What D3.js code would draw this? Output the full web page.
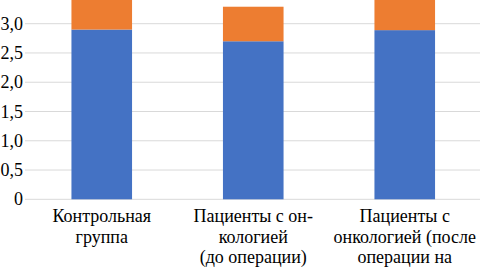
<!DOCTYPE html>
<html>
<head>
<meta charset="utf-8">
<script src="https://cdn.jsdelivr.net/npm/d3@7"></script>
<style>
  body { margin: 0; background: #fff; }
  svg { display: block; }
</style>
</head>
<body>
<script>
// данные
const categories = ["Контрольная группа", "Пациенты с онкологией (до операции)", "Пациенты с онкологией (после операции на"];
const labelLines = [
    ["Контрольная", "группа"],
    ["Пациенты с он-", "кологией", "(до операции)"],
    ["Пациенты с", "онкологией (после", "операции на"]
];
const seriesBlue = [2.9, 2.7, 2.89];
const seriesOrange = [0.6, 0.59, 0.6];
const yTicks = [0, 0.5, 1.0, 1.5, 2.0, 2.5, 3.0];

const width = 480, height = 267;
const colors = { blue: "#4472C4", orange: "#ED7D31", grid: "#d9d9d9", text: "#000" };
const fontFamily = "Liberation Serif";

const svg = d3.select("body").append("svg")
    .attr("width", width)
    .attr("height", height);

const x = d3.scaleBand()
    .domain(categories)
    .range([26, 480.5])
    .paddingInner(0.6)
    .paddingOuter(0.3);

const y = d3.scaleLinear()
    .domain([0, 3])
    .range([199.3, 23.7]);

// сетка
svg.append("g")
    .selectAll("line")
    .data(yTicks)
    .enter().append("line")
    .attr("x1", 25)
    .attr("x2", width)
    .attr("y1", d => y(d))
    .attr("y2", d => y(d))
    .attr("stroke", colors.grid)
    .attr("stroke-width", 1);

// подписи оси Y
svg.append("g")
    .selectAll("text")
    .data(yTicks)
    .enter().append("text")
    .attr("x", 23)
    .attr("y", d => y(d) + 6)
    .attr("text-anchor", "end")
    .attr("font-family", fontFamily)
    .attr("font-size", 18)
    .attr("fill", colors.text)
    .text(d => d === 0 ? "0" : d3.format(".1f")(d).replace(".", ","));

// столбцы
const stacked = categories.map((c, i) => ({ c, blue: seriesBlue[i], orange: seriesOrange[i] }));

svg.append("g")
    .selectAll("rect")
    .data(stacked)
    .enter().append("rect")
    .attr("x", d => x(d.c))
    .attr("width", x.bandwidth())
    .attr("y", d => y(d.blue))
    .attr("height", d => y(0) - y(d.blue))
    .attr("fill", colors.blue);

svg.append("g")
    .selectAll("rect")
    .data(stacked)
    .enter().append("rect")
    .attr("x", d => x(d.c))
    .attr("width", x.bandwidth())
    .attr("y", d => y(d.blue + d.orange))
    .attr("height", d => y(d.blue) - y(d.blue + d.orange))
    .attr("fill", colors.orange);

// подписи категорий, по строкам
labelLines.forEach((lines, i) => {
    const cx = x(categories[i]) + x.bandwidth() / 2;
    svg.append("g")
        .selectAll("text")
        .data(lines)
        .enter().append("text")
        .attr("x", cx)
        .attr("y", (d, j) => 222 + j * 20.5)
        .attr("text-anchor", "middle")
        .attr("font-family", fontFamily)
        .attr("font-size", 18)
        .attr("fill", colors.text)
        .text(d => d);
});
</script>
</body>
</html>
